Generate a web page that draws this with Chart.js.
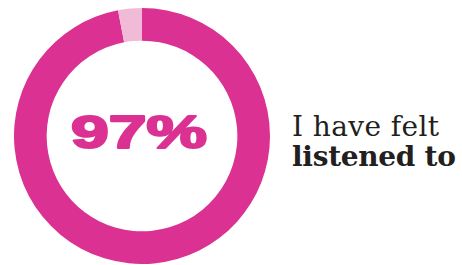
<!DOCTYPE html>
<html>
<head>
<meta charset="utf-8">
<script src="https://cdn.jsdelivr.net/npm/chart.js@4/dist/chart.umd.min.js"></script>
<style>
  body { margin: 0; background: #fff; width: 462px; height: 265px; overflow: hidden; position: relative; }
  .chart-box { position: absolute; left: 14px; top: 8px; width: 256px; height: 256px; }
  .caption { position: absolute; left: 292px; top: 112px; font-family: "DejaVu Serif", serif; font-size: 28px; line-height: 30px; color: #231f20; white-space: nowrap; }
  .caption span { letter-spacing: 0.4px; }
  .caption b { font-weight: bold; letter-spacing: -0.3px; }
</style>
</head>
<body>
<div class="chart-box"><canvas id="donut"></canvas></div>
<div class="caption"><span id="line1">I have felt</span><br><b id="line2">listened to</b></div>
<script>
// Data
const labels = ['Felt listened to', 'Did not'];
const values = [97, 3];
const colors = ['#db3192', '#f1bbd8'];
const centerLabel = '97%';

// ---------- centre text, stretched wide like the original display font
const centerText = {
    id: 'centerText',
    afterDraw(chart) {
        const c = chart.ctx;
        const meta = chart.getDatasetMeta(0).data[0];
        c.save();
        c.font = 'bold 47px "Liberation Sans", Arial, sans-serif';
        const w = c.measureText(centerLabel).width;
        const sx = 136 / w;
        c.translate(meta.x - 3, meta.y - 1);
        c.scale(sx, 1);
        c.fillStyle = colors[0];
        c.strokeStyle = colors[0];
        c.lineWidth = 2.2;
        c.lineJoin = 'round';
        c.textAlign = 'center';
        c.textBaseline = 'middle';
        c.fillText(centerLabel, 0, 0);
        c.strokeText(centerLabel, 0, 0);
        c.restore();
    }
};

var ctx = document.getElementById('donut');
var donut = new Chart(ctx, {
    type: 'doughnut',
    data: {
        labels: labels,
        datasets: [{
            data: values,
            backgroundColor: colors,
            borderWidth: 0
        }]
    },
    options: {
        responsive: true,
        maintainAspectRatio: false,
        animation: false,
        cutout: '74.5%',
        plugins: {
            legend: { display: false },
            tooltip: { enabled: false }
        }
    },
    plugins: [centerText]
});
</script>
</body>
</html>
